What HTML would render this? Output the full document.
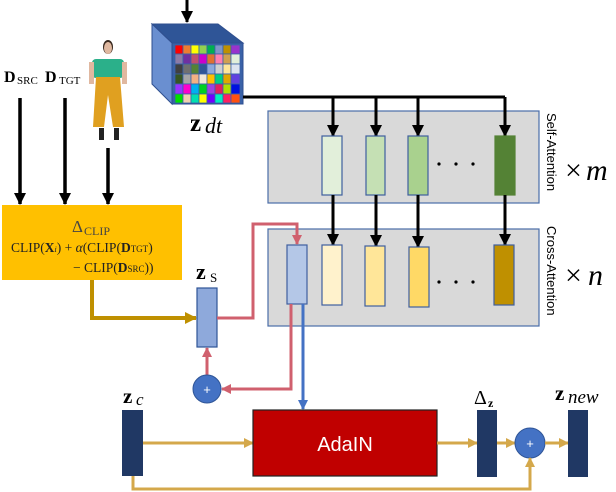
<!DOCTYPE html>
<html><head><style>
body{margin:0;background:#fff;}
svg{display:block}
text{font-family:"Liberation Serif",serif;}
</style></head><body>
<svg width="616" height="492" viewBox="0 0 616 492" xmlns="http://www.w3.org/2000/svg">
<defs>
<marker id="ak" markerWidth="12" markerHeight="12" refX="11" refY="6" orient="auto" markerUnits="userSpaceOnUse"><path d="M0,0 L12,6 L0,12z" fill="#000"/></marker>
<marker id="ar" markerWidth="10" markerHeight="10" refX="9" refY="5" orient="auto" markerUnits="userSpaceOnUse"><path d="M0,0 L10,5 L0,10z" fill="#D0606E"/></marker>
<marker id="ab" markerWidth="10" markerHeight="10" refX="9" refY="5" orient="auto" markerUnits="userSpaceOnUse"><path d="M0,0 L10,5 L0,10z" fill="#4472C4"/></marker>
<marker id="ag" markerWidth="10" markerHeight="10" refX="9" refY="5" orient="auto" markerUnits="userSpaceOnUse"><path d="M0,0 L10,5 L0,10z" fill="#D4A84B"/></marker>
<marker id="agd" markerWidth="12" markerHeight="12" refX="11" refY="6" orient="auto" markerUnits="userSpaceOnUse"><path d="M0,0 L12,6 L0,12z" fill="#BF9000"/></marker>
</defs>

<!-- cube -->
<line x1="187" y1="0" x2="187" y2="22" stroke="#000" stroke-width="3" marker-end="url(#ak)"/>
<polygon points="152,24 218,24 243,43 172,43" fill="#2F5597" stroke="#2F4F8F"/>
<polygon points="152,24 172,43 172,104 152,84" fill="#6A8FD0" stroke="#2F4F8F"/>
<rect x="172" y="43" width="71" height="61" fill="#3A62A8" stroke="#2F4F8F"/>
<g stroke="#3A62A8" stroke-width="0.8">
<rect x="175" y="45" width="8" height="9" fill="#FF0000"/><rect x="183" y="45" width="8" height="9" fill="#ED7D31"/><rect x="191" y="45" width="8" height="9" fill="#FFFF00"/><rect x="199" y="45" width="8" height="9" fill="#92D050"/><rect x="207" y="45" width="8" height="9" fill="#00B050"/><rect x="215" y="45" width="8" height="9" fill="#7F96C8"/><rect x="223" y="45" width="8" height="9" fill="#BF9000"/><rect x="231" y="45" width="9" height="9" fill="#9933CC"/>
<rect x="175" y="54" width="8" height="10" fill="#8C7BA6"/><rect x="183" y="54" width="8" height="10" fill="#7030A0"/><rect x="191" y="54" width="8" height="10" fill="#C0506E"/><rect x="199" y="54" width="8" height="10" fill="#CC00CC"/><rect x="207" y="54" width="8" height="10" fill="#E07030"/><rect x="215" y="54" width="8" height="10" fill="#FF7FB0"/><rect x="223" y="54" width="8" height="10" fill="#D0A050"/><rect x="231" y="54" width="9" height="10" fill="#E2EFDA"/>
<rect x="175" y="64" width="8" height="10" fill="#404040"/><rect x="183" y="64" width="8" height="10" fill="#707070"/><rect x="191" y="64" width="8" height="10" fill="#548235"/><rect x="199" y="64" width="8" height="10" fill="#2F5597"/><rect x="207" y="64" width="8" height="10" fill="#8EA9DB"/><rect x="215" y="64" width="8" height="10" fill="#D0D0D0"/><rect x="223" y="64" width="8" height="10" fill="#FFE699"/><rect x="231" y="64" width="9" height="10" fill="#DDE4F0"/>
<rect x="175" y="74" width="8" height="10" fill="#375623"/><rect x="183" y="74" width="8" height="10" fill="#A6A6A6"/><rect x="191" y="74" width="8" height="10" fill="#F4B183"/><rect x="199" y="74" width="8" height="10" fill="#F2E8D8"/><rect x="207" y="74" width="8" height="10" fill="#FFC000"/><rect x="215" y="74" width="8" height="10" fill="#00D080"/><rect x="223" y="74" width="8" height="10" fill="#E0A800"/><rect x="231" y="74" width="9" height="10" fill="#6040E0"/>
<rect x="175" y="84" width="8" height="10" fill="#9933FF"/><rect x="183" y="84" width="8" height="10" fill="#FF00CC"/><rect x="191" y="84" width="8" height="10" fill="#00B0F0"/><rect x="199" y="84" width="8" height="10" fill="#00D020"/><rect x="207" y="84" width="8" height="10" fill="#A040E0"/><rect x="215" y="84" width="8" height="10" fill="#E02060"/><rect x="223" y="84" width="8" height="10" fill="#B0E000"/><rect x="231" y="84" width="9" height="10" fill="#0010E0"/>
<rect x="175" y="94" width="8" height="9" fill="#00E000"/><rect x="183" y="94" width="8" height="9" fill="#F0D0B0"/><rect x="191" y="94" width="8" height="9" fill="#00E0B0"/><rect x="199" y="94" width="8" height="9" fill="#FFFF00"/><rect x="207" y="94" width="8" height="9" fill="#7000FF"/><rect x="215" y="94" width="8" height="9" fill="#00F0C0"/><rect x="223" y="94" width="8" height="9" fill="#FF2060"/><rect x="231" y="94" width="9" height="9" fill="#FF5010"/>
</g>
<text x="190" y="131" font-size="25" font-weight="bold">z</text><text x="205" y="133" font-size="22" font-style="italic">dt</text>

<!-- self-attention -->
<rect x="268" y="111" width="271" height="92" fill="#D9D9D9" stroke="#4A6DA8" stroke-width="1.2"/>
<line x1="243" y1="97" x2="505" y2="97" stroke="#000" stroke-width="3"/>
<g stroke="#000" stroke-width="3">
<line x1="333" y1="97" x2="333" y2="136" marker-end="url(#ak)"/>
<line x1="376" y1="97" x2="376" y2="136" marker-end="url(#ak)"/>
<line x1="418" y1="97" x2="418" y2="136" marker-end="url(#ak)"/>
<line x1="505" y1="97" x2="505" y2="136" marker-end="url(#ak)"/>
</g>
<g stroke="#3F5F9F" stroke-width="1.2">
<rect x="322" y="136" width="20" height="59" fill="#E2EFDA"/>
<rect x="366" y="136" width="19" height="59" fill="#C5E0B4"/>
<rect x="408" y="136" width="20" height="59" fill="#A9D18E"/>
<rect x="495" y="136" width="20" height="59" fill="#548235" stroke="#548235"/>
</g>
<g fill="#000"><circle cx="439" cy="164" r="1.6"/><circle cx="456" cy="164" r="1.6"/><circle cx="473" cy="164" r="1.6"/></g>
<text transform="translate(547,113) rotate(90)" font-size="13" style="font-family:'Liberation Sans',sans-serif">Self-Attention</text>
<text x="565" y="180" font-size="30">×</text><text x="586" y="180" font-size="30" font-style="italic">m</text>

<!-- cross-attention -->
<rect x="268" y="229" width="271" height="97" fill="#D9D9D9" stroke="#4A6DA8" stroke-width="1.2"/>
<g stroke="#000" stroke-width="3">
<line x1="333" y1="195" x2="333" y2="245" marker-end="url(#ak)"/>
<line x1="376" y1="195" x2="376" y2="246" marker-end="url(#ak)"/>
<line x1="418" y1="195" x2="418" y2="247" marker-end="url(#ak)"/>
<line x1="505" y1="195" x2="505" y2="245" marker-end="url(#ak)"/>
</g>
<g stroke="#3F5F9F" stroke-width="1.2">
<rect x="287" y="245" width="20" height="59" fill="#B4C7E7"/>
<rect x="322" y="245" width="20" height="60" fill="#FFF2CC"/>
<rect x="365" y="246" width="20" height="60" fill="#FFE699"/>
<rect x="409" y="247" width="20" height="60" fill="#FFD966"/>
<rect x="494" y="245" width="20" height="60" fill="#BF9000"/>
</g>
<g fill="#000"><circle cx="439" cy="282" r="1.6"/><circle cx="456" cy="282" r="1.6"/><circle cx="473" cy="282" r="1.6"/></g>
<text transform="translate(547,226) rotate(90)" font-size="13" style="font-family:'Liberation Sans',sans-serif">Cross-Attention</text>
<text x="565" y="285" font-size="30">×</text><text x="588" y="285" font-size="30" font-style="italic">n</text>

<!-- D labels & person -->
<text x="4" y="82" font-size="16" font-weight="bold">D</text><text x="17" y="84" font-size="11">SRC</text>
<text x="45" y="82" font-size="16" font-weight="bold">D</text><text x="59" y="84" font-size="11">TGT</text>
<g>
<ellipse cx="108" cy="47" rx="5" ry="7" fill="#3a2a20"/>
<ellipse cx="108" cy="48" rx="4" ry="6" fill="#e0b8a0"/>
<rect x="92" y="59" width="32" height="19" rx="4" fill="#2BB08A"/>
<rect x="89" y="62" width="5" height="22" fill="#e0b8a0"/><rect x="122" y="62" width="5" height="22" fill="#e0b8a0"/>
<polygon points="96,77 120,77 124,127 113,127 108,95 104,127 93,127" fill="#E0A020"/>
<rect x="99" y="128" width="5" height="12" fill="#222"/><rect x="114" y="128" width="5" height="12" fill="#222"/>
</g>
<g stroke="#000" stroke-width="3.5">
<line x1="20" y1="98" x2="20" y2="204" marker-end="url(#ak)"/>
<line x1="65" y1="98" x2="65" y2="204" marker-end="url(#ak)"/>
<line x1="108" y1="148" x2="108" y2="204" marker-end="url(#ak)"/>
</g>

<!-- orange box -->
<rect x="2" y="205" width="180" height="75" fill="#FFC000"/>
<text x="72" y="232" font-size="17" fill="#444">Δ</text><text x="84" y="235" font-size="12" fill="#444">CLIP</text>
<text x="11" y="252" font-size="13.5" fill="#222">CLIP(<tspan font-weight="bold">X</tspan><tspan font-size="8" font-style="italic">i</tspan>) + <tspan font-style="italic">α</tspan>(CLIP(<tspan font-weight="bold">D</tspan><tspan font-size="9">TGT</tspan>)</text>
<text x="73" y="272" font-size="13.5" fill="#222">− CLIP(<tspan font-weight="bold">D</tspan><tspan font-size="9">SRC</tspan>))</text>

<!-- gold path to z_s -->
<polyline points="92,280 92,318 196,318" fill="none" stroke="#BF9000" stroke-width="4" marker-end="url(#agd)"/>
<text x="196" y="279" font-size="22" font-weight="bold">z</text><text x="210" y="282" font-size="13">S</text>
<rect x="197" y="288" width="20" height="59" fill="#8EA9DB" stroke="#2F5597" stroke-width="1.2"/>

<!-- red paths -->
<polyline points="217,318 253,318 253,224 297,224 297,244" fill="none" stroke="#D0606E" stroke-width="3" marker-end="url(#ar)"/>
<polyline points="291,304 291,389 222,389" fill="none" stroke="#D0606E" stroke-width="3" marker-end="url(#ar)"/>
<line x1="207" y1="375" x2="207" y2="348" stroke="#D0606E" stroke-width="3" marker-end="url(#ar)"/>
<circle cx="207" cy="389" r="14" fill="#4472C4" stroke="#2F5597"/>
<text x="207" y="394" font-size="13" fill="#fff" text-anchor="middle" style="font-family:'Liberation Sans',sans-serif">+</text>

<!-- blue path -->
<line x1="303" y1="304" x2="303" y2="409" stroke="#4472C4" stroke-width="3" marker-end="url(#ab)"/>

<!-- bottom row -->
<text x="123" y="403" font-size="21" font-weight="bold">z</text><text x="136" y="405" font-size="17" font-style="italic">c</text>
<rect x="122" y="410" width="21" height="66" fill="#203864"/>
<line x1="143" y1="443" x2="253" y2="443" stroke="#D4A84B" stroke-width="3" marker-end="url(#ag)"/>
<rect x="253" y="410" width="184" height="66" fill="#C00000" stroke="#222" stroke-width="1.2"/>
<text x="345" y="451" font-size="20" fill="#fff" text-anchor="middle" style="font-family:'Liberation Sans',sans-serif">AdaIN</text>
<line x1="437" y1="443" x2="477" y2="443" stroke="#D4A84B" stroke-width="3" marker-end="url(#ag)"/>
<text x="474" y="404" font-size="20">Δ</text><text x="488" y="407" font-size="12" font-weight="bold">z</text>
<rect x="477" y="410" width="20" height="67" fill="#203864"/>
<line x1="497" y1="443" x2="515" y2="443" stroke="#D4A84B" stroke-width="3" marker-end="url(#ag)"/>
<circle cx="530" cy="443" r="15" fill="#4472C4" stroke="#2F5597"/>
<text x="530" y="448" font-size="13" fill="#fff" text-anchor="middle" style="font-family:'Liberation Sans',sans-serif">+</text>
<line x1="545" y1="443" x2="568" y2="443" stroke="#D4A84B" stroke-width="3" marker-end="url(#ag)"/>
<text x="555" y="400" font-size="21" font-weight="bold">z</text><text x="568" y="403" font-size="19" font-style="italic">new</text>
<rect x="568" y="410" width="20" height="67" fill="#203864"/>
<polyline points="133,476 133,489 530,489 530,458" fill="none" stroke="#D4A84B" stroke-width="3" marker-end="url(#ag)"/>
</svg>
</body></html>
